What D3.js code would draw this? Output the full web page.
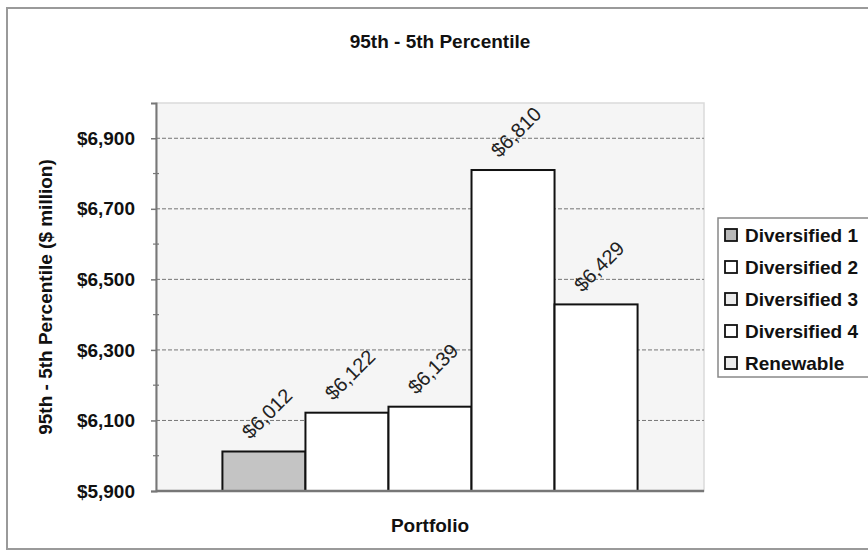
<!DOCTYPE html>
<html><head><meta charset="utf-8">
<script src="https://cdn.jsdelivr.net/npm/d3@7"></script>
<style>
body{margin:0;background:#fff;}
text{font-family:"Liberation Sans",Arial,sans-serif;}
</style></head>
<body><svg id="c" width="868" height="553"></svg>
<script>
const series = ["Diversified 1","Diversified 2","Diversified 3","Diversified 4","Renewable"];
const values = [6012, 6122, 6139, 6810, 6429];
const fills = ["#c4c4c4","#ffffff","#ffffff","#ffffff","#ffffff"];
const legendFills = ["#b8b8b8","#ffffff","#ececec","#ffffff","#ececec"];
const yTicks = [5900, 6100, 6300, 6500, 6700, 6900];
const yDomain = [5900, 7000];
const chartTitle = "95th - 5th Percentile";
const yTitle = "95th - 5th Percentile ($ million)";
const xTitle = "Portfolio";

const svg = d3.select("#c");
const fmt = v => "$" + d3.format(",")(v);
const P = {l:156, r:704, t:103, b:491};

// chart border
svg.append("rect").attr("x",7).attr("y",8).attr("width",880).attr("height",541)
  .attr("fill","#fff").attr("stroke","#9a9a9a").attr("stroke-width",2);

// plot bg
svg.append("rect").attr("x",P.l).attr("y",P.t).attr("width",P.r-P.l).attr("height",P.b-P.t)
  .attr("fill","#f5f5f5").attr("stroke","#dadada").attr("stroke-width",1.5);

const y = d3.scaleLinear().domain(yDomain).range([P.b,P.t]);
const x = d3.scaleBand().domain(series).range([P.l,P.r]).paddingInner(0).paddingOuter(0.8);

// gridlines
svg.append("g").selectAll("line").data(yTicks.slice(1)).join("line")
  .attr("x1",P.l).attr("x2",P.r).attr("y1",d=>y(d)).attr("y2",d=>y(d))
  .attr("stroke","#555").attr("stroke-width",0.8).attr("stroke-dasharray","4,2");

// y axis
const ax = svg.append("g").attr("transform",`translate(${P.l},0)`)
  .call(d3.axisLeft(y).tickValues(yTicks).tickFormat(fmt).tickSize(5).tickPadding(16));
ax.select(".domain").attr("stroke","#777").attr("stroke-width",2);
ax.selectAll(".tick line").attr("stroke","#777").attr("stroke-width",1.5);
ax.selectAll(".tick text").attr("font-size",19).attr("font-weight","bold").attr("fill","#111");
// minor ticks
svg.append("g").selectAll("line").data(d3.range(yDomain[0]+100,yDomain[1],200)).join("line")
  .attr("x1",P.l-3).attr("x2",P.l+3).attr("y1",d=>y(d)).attr("y2",d=>y(d))
  .attr("stroke","#777").attr("stroke-width",1.2);

// bars
svg.append("g").selectAll("rect").data(series).join("rect")
  .attr("x",d=>x(d)).attr("width",x.bandwidth())
  .attr("y",(d,i)=>y(values[i])).attr("height",(d,i)=>y(yDomain[0])-y(values[i]))
  .attr("fill",(d,i)=>fills[i]).attr("stroke","#111").attr("stroke-width",2);

// x axis line
svg.append("line").attr("x1",P.l).attr("x2",P.r).attr("y1",P.b).attr("y2",P.b)
  .attr("stroke","#777").attr("stroke-width",2.5);

// labels
svg.append("g").selectAll("text").data(series).join("text")
  .attr("transform",(d,i)=>`translate(${x(d)+x.bandwidth()/2+3},${y(values[i])-38}) rotate(-45)`)
  .attr("text-anchor","middle").attr("dominant-baseline","central")
  .attr("font-size",20).attr("fill","#222").text((d,i)=>fmt(values[i]));

// titles
svg.append("text").attr("x",440).attr("y",48).attr("text-anchor","middle")
  .attr("font-size",19).attr("font-weight","bold").attr("fill","#111").text(chartTitle);
svg.append("text").attr("transform",`translate(52,${(P.t+P.b)/2}) rotate(-90)`).attr("text-anchor","middle")
  .attr("font-size",19).attr("font-weight","bold").attr("fill","#111").text(yTitle);
svg.append("text").attr("x",(P.l+P.r)/2).attr("y",532).attr("text-anchor","middle")
  .attr("font-size",19).attr("font-weight","bold").attr("fill","#111").text(xTitle);

// legend
const L = {x:718, y:218, w:170, h:159, step:32};
svg.append("rect").attr("x",L.x).attr("y",L.y).attr("width",L.w).attr("height",L.h)
  .attr("fill","#fff").attr("stroke","#888").attr("stroke-width",1.5);
const lg = svg.append("g").selectAll("g").data(series).join("g")
  .attr("transform",(d,i)=>`translate(${L.x+7},${L.y+17+i*L.step})`);
lg.append("rect").attr("x",0).attr("y",-6).attr("width",12).attr("height",12)
  .attr("fill",(d,i)=>legendFills[i]).attr("stroke","#111").attr("stroke-width",1.8);
lg.append("text").attr("x",20).attr("y",0).attr("dominant-baseline","central")
  .attr("font-size",19).attr("font-weight","bold").attr("fill","#111").text(d=>d);
</script></body></html>
